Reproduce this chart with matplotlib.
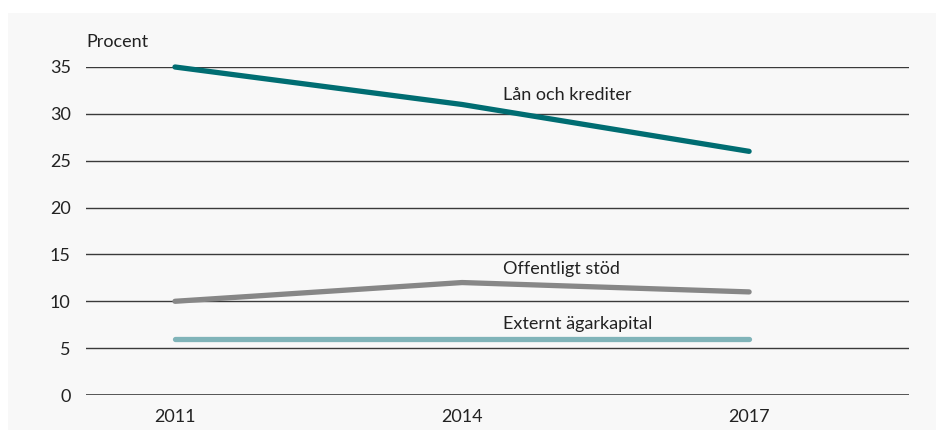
#!/usr/bin/env python3

# Import special modules ...
import matplotlib
matplotlib.use("Agg")
import matplotlib.pyplot

# ******************************************************************************

years = ["2011", "2014", "2017"]
lan = [35, 31, 26]
offentligt = [10, 12, 11]
externt = [6, 6, 6]
yticks = [0, 5, 10, 15, 20, 25, 30, 35]

# Configure matplotlib ...
matplotlib.pyplot.rcParams.update({"font.family" : ["Lato", "DejaVu Sans"], "font.size" : 13})

# ******************************************************************************

# Create plot ...
fg = matplotlib.pyplot.figure(figsize = (9.44, 4.36), dpi = 100)
fg.patch.set_facecolor("white")

# Add background panel ...
bg = fg.add_axes([8 / 944, 1 - 430 / 436, 928 / 944, 417 / 436], zorder = -5)
bg.set_facecolor("#f8f8f8")
bg.set_xticks([])
bg.set_yticks([])
for sp in bg.spines.values():
    sp.set_visible(False)

ax = fg.add_axes([86 / 944, 1 - 395 / 436, 823 / 944, 328 / 436], zorder = 1)
ax.set_facecolor("none")
xs = list(range(len(years)))

# Add grid lines ...
for yt in yticks:
    ax.axhline(yt, color = "#3a3a3a", linewidth = 1.2 if yt == 0 else 1.0, zorder = 1)

# Add lines ...
ax.plot(xs, externt, color = "#80b4b9", linewidth = 3.8, solid_capstyle = "round", clip_on = False, zorder = 3)
ax.plot(xs, offentligt, color = "#878787", linewidth = 3.8, solid_capstyle = "round", clip_on = False, zorder = 3)
ax.plot(xs, lan, color = "#006d72", linewidth = 3.8, solid_capstyle = "round", clip_on = False, zorder = 3)

# Add labels ...
ax.text(1.143, 32.0, "Lån och krediter", color = "#222222", va = "center", ha = "left")
ax.text(1.143, 13.45, "Offentligt stöd", color = "#222222", va = "center", ha = "left")
ax.text(1.143, 7.55, "Externt ägarkapital", color = "#222222", va = "center", ha = "left")

# Configure axes ...
ax.set_xlim(-0.31, 2.557)
ax.set_ylim(0, 35)
ax.set_xticks(xs)
ax.set_xticklabels(years)
ax.set_yticks(yticks)
ax.tick_params(length = 0, colors = "#222222", labelsize = 13)
ax.tick_params(axis = "y", pad = 11)
ax.tick_params(axis = "x", pad = 10)
for sp in ax.spines.values():
    sp.set_visible(False)
ax.text(0, 1.0 + 25 / 328, "Procent", transform = ax.transAxes, color = "#222222", va = "center", ha = "left")

# Save plot ...
fg.savefig("out.png", dpi = 100)
matplotlib.pyplot.close(fg)
